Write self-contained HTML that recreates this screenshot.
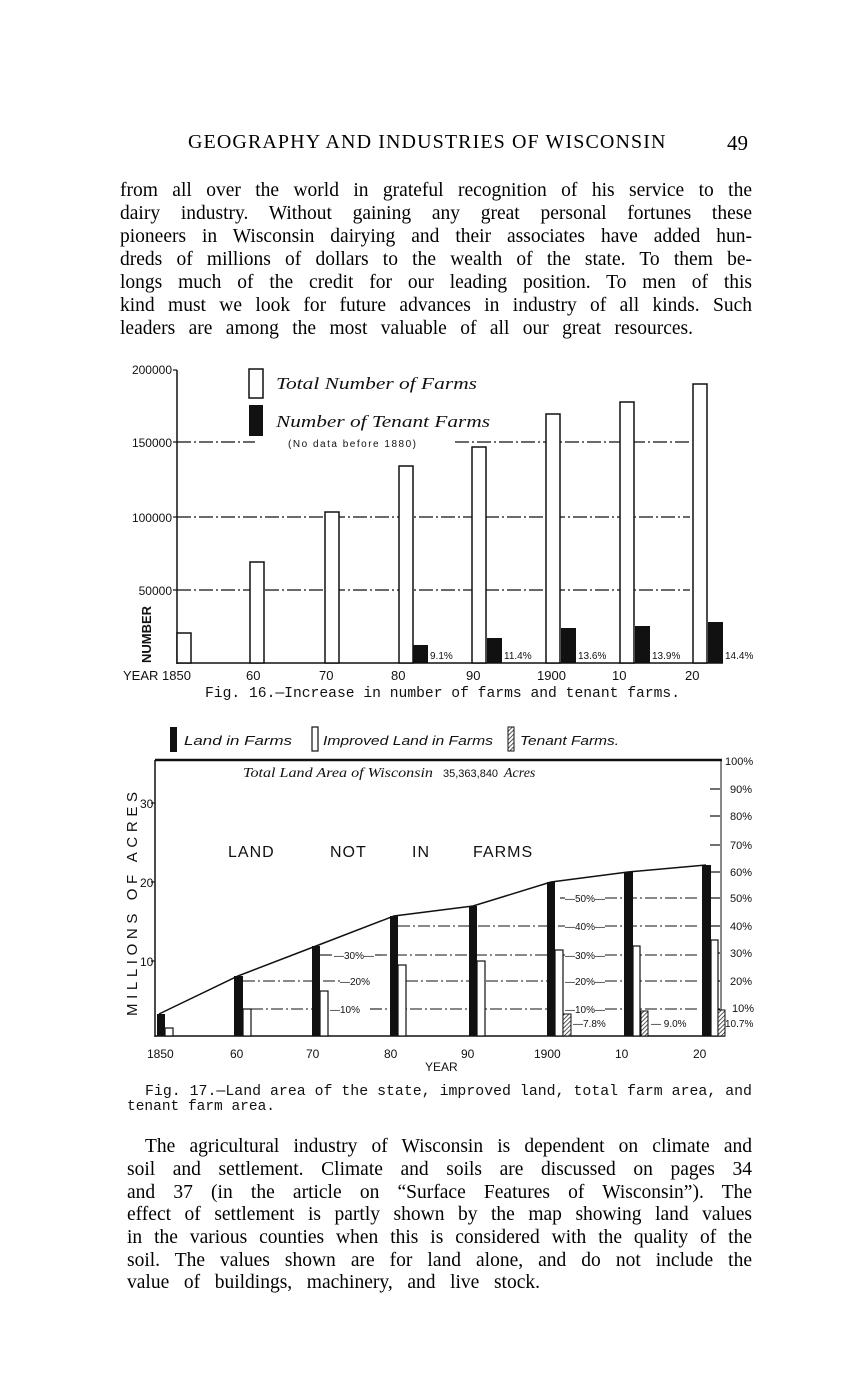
<!DOCTYPE html>
<html><head><meta charset="utf-8"><style>
body{margin:0;background:#fff;}
#p{position:relative;width:859px;height:1380px;overflow:hidden;background:#fff;color:#000;font-family:"Liberation Serif",serif;}
.l{position:absolute;left:120px;width:632px;font-size:19.5px;line-height:22px;text-align:justify;text-align-last:justify;white-space:nowrap;}
.l2{left:127px;width:625px;}
.t{position:absolute;white-space:nowrap;}
svg{position:absolute;left:0;top:0;}
</style></head><body><div id="p">
<div class="t" style="left:188px;top:131px;font-size:20px;letter-spacing:1.1px;">GEOGRAPHY AND INDUSTRIES OF WISCONSIN</div>
<div class="t" style="left:727px;top:131px;font-size:21px;">49</div>
<div class="l" style="top:180px">from all over the world in grateful recognition of his service to the</div>
<div class="l" style="top:203px">dairy industry. Without gaining any great personal fortunes these</div>
<div class="l" style="top:226px">pioneers in Wisconsin dairying and their associates have added hun-</div>
<div class="l" style="top:249px">dreds of millions of dollars to the wealth of the state. To them be-</div>
<div class="l" style="top:272px">longs much of the credit for our leading position. To men of this</div>
<div class="l" style="top:295px">kind must we look for future advances in industry of all kinds. Such</div>
<div class="l" style="top:318px;width:573px;">leaders are among the most valuable of all our great resources.</div>

<svg width="859" height="1380" viewBox="0 0 859 1380" font-family="Liberation Sans, sans-serif">
<defs><pattern id="h" width="3" height="3" patternUnits="userSpaceOnUse" patternTransform="rotate(45)"><rect width="3" height="3" fill="#fff"/><line x1="0" y1="0" x2="0" y2="3" stroke="#222" stroke-width="1.5"/></pattern></defs>
<!-- Chart 1 -->
<g stroke="#111" stroke-width="1.2" stroke-dasharray="14,3,2,3" fill="none">
<line x1="177" y1="442" x2="255" y2="442"/><line x1="455" y1="442" x2="690" y2="442"/>
<line x1="177" y1="517" x2="690" y2="517"/>
<line x1="177" y1="590" x2="690" y2="590"/>
</g>
<line x1="177" y1="370" x2="177" y2="664" stroke="#111" stroke-width="1.5"/>
<line x1="177" y1="663" x2="723" y2="663" stroke="#111" stroke-width="1.5"/>
<g stroke="#111" stroke-width="1.2"><line x1="173" y1="370" x2="177" y2="370"/><line x1="173" y1="442" x2="177" y2="442"/><line x1="173" y1="517" x2="177" y2="517"/><line x1="173" y1="590" x2="177" y2="590"/></g>
<g font-size="12" text-anchor="end" fill="#111"><text x="172" y="374">200000</text><text x="172" y="447">150000</text><text x="172" y="522">100000</text><text x="172" y="595">50000</text></g>
<text transform="translate(151,663) rotate(-90)" font-size="13" font-weight="bold" fill="#111">NUMBER</text>
<g fill="#fff" stroke="#111" stroke-width="1.5">
<rect x="177" y="633" width="14" height="30"/><rect x="250" y="562" width="14" height="101"/><rect x="325" y="512" width="14" height="151"/><rect x="399" y="466" width="14" height="197"/><rect x="472" y="447" width="14" height="216"/><rect x="546" y="414" width="14" height="249"/><rect x="620" y="402" width="14" height="261"/><rect x="693" y="384" width="14" height="279"/>
<rect x="249" y="369" width="14" height="29"/>
</g>
<g fill="#111"><rect x="413" y="645" width="15" height="18"/><rect x="487" y="638" width="15" height="25"/><rect x="561" y="628" width="15" height="35"/><rect x="635" y="626" width="15" height="37"/><rect x="708" y="622" width="15" height="41"/><rect x="249" y="405" width="14" height="31"/></g>
<g font-size="10" fill="#111"><text x="430" y="659">9.1%</text><text x="504" y="659">11.4%</text><text x="578" y="659">13.6%</text><text x="652" y="659">13.9%</text><text x="725" y="659">14.4%</text></g>
<g font-family="Liberation Serif, serif" font-style="italic" font-size="17" fill="#111"><text x="276" y="389" textLength="201" lengthAdjust="spacingAndGlyphs">Total Number of Farms</text><text x="276" y="427" textLength="214" lengthAdjust="spacingAndGlyphs">Number of Tenant Farms</text></g>
<text x="288" y="447" font-size="10" fill="#111" textLength="128">(No data before 1880)</text>
<g font-size="13" fill="#111"><text x="123" y="680">YEAR 1850</text><text x="246" y="680">60</text><text x="319" y="680">70</text><text x="391" y="680">80</text><text x="466" y="680">90</text><text x="537" y="680">1900</text><text x="612" y="680">10</text><text x="685" y="680">20</text></g>
<text x="205" y="697" font-family="Liberation Mono, monospace" font-size="14.7" fill="#111" textLength="475" lengthAdjust="spacingAndGlyphs">Fig. 16.—Increase in number of farms and tenant farms.</text>

<!-- Chart 2 legend -->
<rect x="170" y="727" width="7" height="25" fill="#111"/>
<rect x="312" y="727" width="6" height="24" fill="#fff" stroke="#111" stroke-width="1.2"/>
<rect x="508" y="727" width="6" height="24" fill="url(#h)" stroke="#111" stroke-width="1"/>
<g font-family="Liberation Sans, sans-serif" font-style="italic" font-size="12.5" fill="#111"><text x="184" y="745" textLength="108" lengthAdjust="spacingAndGlyphs">Land in Farms</text><text x="323" y="745" textLength="170" lengthAdjust="spacingAndGlyphs">Improved Land in Farms</text><text x="520" y="745" textLength="99" lengthAdjust="spacingAndGlyphs">Tenant Farms.</text></g>
<!-- frame -->
<line x1="155" y1="760" x2="722" y2="760" stroke="#111" stroke-width="2.5"/>
<line x1="155" y1="760" x2="155" y2="1037" stroke="#111" stroke-width="1.5"/>
<line x1="155" y1="1036" x2="725" y2="1036" stroke="#111" stroke-width="1.5"/>
<line x1="721" y1="760" x2="721" y2="1036" stroke="#111" stroke-width="1"/>
<g stroke="#111" stroke-width="1.2"><line x1="151" y1="803" x2="155" y2="803"/><line x1="151" y1="882" x2="155" y2="882"/><line x1="151" y1="961" x2="155" y2="961"/></g>
<g font-size="12" fill="#111"><text x="140" y="808">30</text><text x="140" y="887">20</text><text x="140" y="966">10</text></g>
<text transform="translate(137,1016) rotate(-90)" font-size="15" letter-spacing="2" fill="#111" textLength="226">MILLIONS  OF  ACRES</text>
<text x="243" y="777" font-family="Liberation Serif, serif" font-style="italic" font-size="14" fill="#111" textLength="190" lengthAdjust="spacingAndGlyphs">Total Land Area of Wisconsin</text>
<text x="443" y="777" font-size="11" fill="#111">35,363,840</text>
<text x="504" y="777" font-family="Liberation Serif, serif" font-style="italic" font-size="14" fill="#111">Acres</text>
<g font-size="16" fill="#111" letter-spacing="1"><text x="228" y="857">LAND</text><text x="330" y="857">NOT</text><text x="412" y="857">IN</text><text x="473" y="857">FARMS</text></g>
<!-- percent lines -->
<g stroke="#111" stroke-width="1.1" stroke-dasharray="12,3,2,3" fill="none">
<line x1="560" y1="898" x2="565" y2="898"/><line x1="605" y1="898" x2="700" y2="898"/>
<line x1="398" y1="926" x2="565" y2="926"/><line x1="605" y1="926" x2="700" y2="926"/>
<line x1="320" y1="955" x2="335" y2="955"/><line x1="375" y1="955" x2="565" y2="955"/><line x1="605" y1="955" x2="700" y2="955"/>
<line x1="243" y1="981" x2="340" y2="981"/><line x1="406" y1="981" x2="565" y2="981"/><line x1="605" y1="981" x2="700" y2="981"/>
<line x1="251" y1="1009" x2="330" y2="1009"/><line x1="370" y1="1009" x2="565" y2="1009"/><line x1="605" y1="1009" x2="700" y2="1009"/>
</g>
<g font-size="10" fill="#111"><text x="334" y="959">—30%—</text><text x="340" y="985">—20%</text><text x="330" y="1013">—10%</text>
<text x="565" y="902">—50%—</text><text x="565" y="930">—40%—</text><text x="565" y="959">—30%—</text><text x="565" y="985">—20%—</text><text x="565" y="1013">—10%—</text>
<text x="573" y="1027">—7.8%</text><text x="651" y="1027">— 9.0%</text><text x="725" y="1027">10.7%</text></g>
<g stroke="#111" stroke-width="1.2"><line x1="710" y1="789" x2="720" y2="789"/><line x1="710" y1="816" x2="720" y2="816"/><line x1="710" y1="845" x2="720" y2="845"/><line x1="710" y1="872" x2="720" y2="872"/><line x1="710" y1="898" x2="720" y2="898"/><line x1="710" y1="926" x2="720" y2="926"/><line x1="710" y1="953" x2="720" y2="953"/><line x1="710" y1="981" x2="720" y2="981"/><line x1="710" y1="1009" x2="720" y2="1009"/></g>
<g font-size="11" fill="#111"><text x="725" y="765">100%</text><text x="730" y="793">90%</text><text x="730" y="820">80%</text><text x="730" y="849">70%</text><text x="730" y="876">60%</text><text x="730" y="902">50%</text><text x="730" y="930">40%</text><text x="730" y="957">30%</text><text x="730" y="985">20%</text><text x="732" y="1012">10%</text></g>
<!-- bars -->
<g fill="#111"><rect x="157" y="1014" width="8" height="22"/><rect x="234" y="976" width="9" height="60"/><rect x="312" y="946" width="8" height="90"/><rect x="390" y="916" width="8" height="120"/><rect x="469" y="906" width="8" height="130"/><rect x="547" y="882" width="8" height="154"/><rect x="624" y="872" width="9" height="164"/><rect x="702" y="865" width="9" height="171"/></g>
<g fill="#fff" stroke="#111" stroke-width="1.2"><rect x="165" y="1028" width="8" height="8"/><rect x="243" y="1009" width="8" height="27"/><rect x="320" y="991" width="8" height="45"/><rect x="398" y="965" width="8" height="71"/><rect x="477" y="961" width="8" height="75"/><rect x="555" y="950" width="8" height="86"/><rect x="633" y="946" width="7" height="90"/><rect x="711" y="940" width="7" height="96"/></g>
<g fill="url(#h)" stroke="#111" stroke-width="1"><rect x="563" y="1014" width="8" height="22"/><rect x="641" y="1011" width="7" height="25"/><rect x="718" y="1010" width="7" height="26"/></g>
<polyline points="159,1014 238,976 316,946 394,916 473,906 551,882 628,872 706,865" fill="none" stroke="#111" stroke-width="1.5"/>
<g font-size="12" fill="#111"><text x="147" y="1058">1850</text><text x="230" y="1058">60</text><text x="306" y="1058">70</text><text x="384" y="1058">80</text><text x="461" y="1058">90</text><text x="534" y="1058">1900</text><text x="615" y="1058">10</text><text x="693" y="1058">20</text><text x="425" y="1071">YEAR</text></g>
<text x="145" y="1095" font-family="Liberation Mono, monospace" font-size="14.7" fill="#111" textLength="607" lengthAdjust="spacingAndGlyphs">Fig. 17.—Land area of the state, improved land, total farm area, and</text>
<text x="127" y="1110" font-family="Liberation Mono, monospace" font-size="14.7" fill="#111" textLength="148" lengthAdjust="spacingAndGlyphs">tenant farm area.</text>
</svg>

<div class="l" style="top:1136px;left:145px;width:607px;">The agricultural industry of Wisconsin is dependent on climate and</div>
<div class="l l2" style="top:1159px">soil and settlement. Climate and soils are discussed on pages 34</div>
<div class="l l2" style="top:1182px">and 37 (in the article on “Surface Features of Wisconsin”). The</div>
<div class="l l2" style="top:1204px">effect of settlement is partly shown by the map showing land values</div>
<div class="l l2" style="top:1227px">in the various counties when this is considered with the quality of the</div>
<div class="l l2" style="top:1250px">soil. The values shown are for land alone, and do not include the</div>
<div class="l l2" style="top:1272px;width:413px;">value of buildings, machinery, and live stock.</div>
</div></body></html>
